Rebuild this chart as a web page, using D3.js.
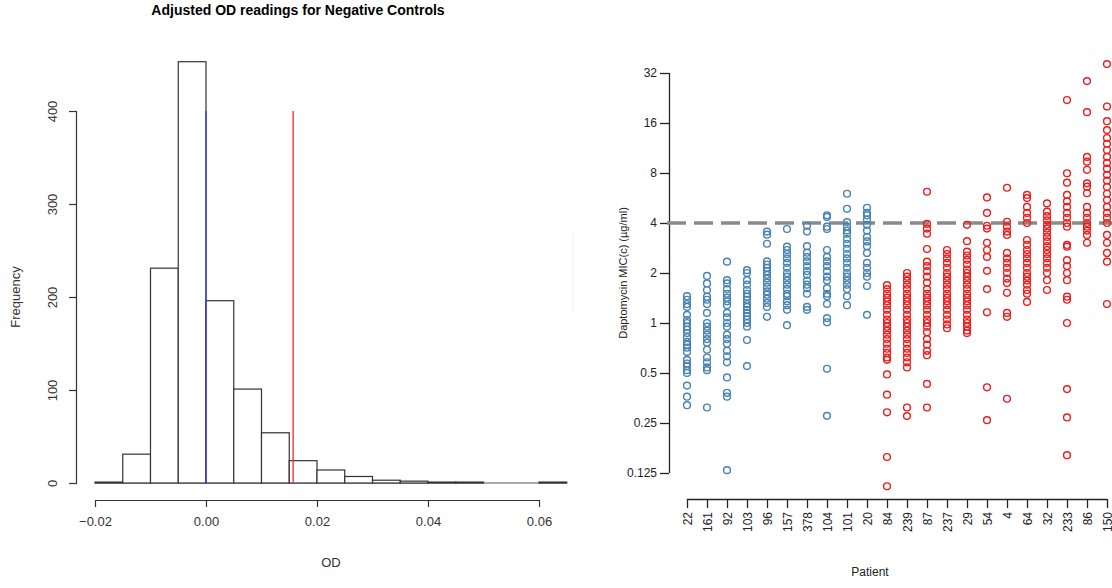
<!DOCTYPE html>
<html lang="en">
<head>
  <meta charset="UTF-8">
  <title>Adjusted OD readings / Daptomycin MIC</title>
  <script src="https://d3js.org/d3.v7.min.js"></script>
  <style>
    body { margin: 0; background: #fff; }
    svg { display: block; font-family: "Liberation Sans", Arial, sans-serif; }
  </style>
</head>
<body>
  <svg id="chart" width="1112" height="588"></svg>

  <script>
    // Histogram data (left panel)
    const binStart = -0.02;
    const binWidth = 0.005;
    const counts = [1, 31, 231, 453, 196, 101, 54, 24, 14, 7, 3, 2, 1, 1, 0, 0, 1];
    const odTicks = [-0.02, 0, 0.02, 0.04, 0.06];
    const freqTicks = [0, 100, 200, 300, 400];
    const refLines = [
      { od: 0, top: 400, color: '#3b3bf0' },
      { od: 0.0157, top: 400, color: '#ee2a2a' }
    ];

    // MIC data (right panel)
    const patients = ['22', '161', '92', '103', '96', '157', '378', '104', '101', '20', '84',
      '239', '87', '237', '29', '54', '4', '64', '32', '233', '86', '150'];
    const groups = ['S', 'S', 'S', 'S', 'S', 'S', 'S', 'S', 'S', 'S', 'R',
      'R', 'R', 'R', 'R', 'R', 'R', 'R', 'R', 'R', 'R', 'R'];
    const micValues = [
      [1.45, 1.38, 1.3, 1.25, 1.12, 1.04, 1, 0.95, 0.91, 0.87, 0.82, 0.77, 0.74, 0.71, 0.67, 0.6, 0.57, 0.55, 0.52, 0.5, 0.42, 0.36, 0.32],
      [1.92, 1.73, 1.58, 1.44, 1.38, 1.3, 1.15, 1.0, 0.95, 0.9, 0.85, 0.8, 0.76, 0.69, 0.62, 0.58, 0.54, 0.52, 0.31],
      [2.34, 1.81, 1.73, 1.6, 1.5, 1.42, 1.35, 1.28, 1.15, 1.08, 1.0, 0.95, 0.85, 0.8, 0.75, 0.68, 0.63, 0.58, 0.47, 0.38, 0.36, 0.13],
      [2.08, 2.0, 1.81, 1.7, 1.58, 1.5, 1.44, 1.38, 1.3, 1.25, 1.2, 1.15, 1.1, 1.05, 1.0, 0.95, 0.79, 0.55],
      [3.55, 3.4, 3.0, 2.35, 2.25, 2.15, 2.05, 1.95, 1.85, 1.75, 1.65, 1.55, 1.48, 1.4, 1.32, 1.25, 1.09],
      [3.68, 2.88, 2.75, 2.6, 2.45, 2.3, 2.15, 2.0, 1.9, 1.8, 1.7, 1.6, 1.5, 1.45, 1.35, 1.28, 1.2, 0.97],
      [3.85, 3.55, 2.9, 2.65, 2.5, 2.35, 2.2, 2.05, 1.95, 1.8, 1.7, 1.62, 1.5, 1.25, 1.2],
      [4.45, 4.35, 3.8, 3.68, 2.75, 2.5, 2.35, 2.2, 2.05, 1.9, 1.8, 1.62, 1.5, 1.45, 1.3, 1.07, 1.01, 0.53, 0.276],
      [6.0, 4.87, 4.05, 3.8, 3.6, 3.45, 3.2, 3.0, 2.8, 2.6, 2.45, 2.3, 2.15, 2.0, 1.9, 1.8, 1.7, 1.6, 1.45, 1.28],
      [4.94, 4.6, 4.45, 4.2, 3.9, 3.6, 3.3, 3.1, 2.9, 2.64, 2.3, 2.15, 2.0, 1.9, 1.67, 1.12],
      [1.69, 1.6, 1.5, 1.42, 1.35, 1.28, 1.2, 1.12, 1.05, 1.0, 0.95, 0.9, 0.85, 0.8, 0.75, 0.7, 0.66, 0.62, 0.6, 0.49, 0.37, 0.29, 0.156, 0.104],
      [2.0, 1.9, 1.8, 1.7, 1.6, 1.5, 1.42, 1.35, 1.28, 1.2, 1.12, 1.05, 1.0, 0.95, 0.9, 0.85, 0.8, 0.75, 0.7, 0.66, 0.62, 0.58, 0.54, 0.31, 0.275],
      [6.17, 3.95, 3.7, 3.45, 2.79, 2.34, 2.2, 2.05, 1.9, 1.75, 1.6, 1.5, 1.42, 1.35, 1.28, 1.2, 1.12, 1.05, 1.0, 0.95, 0.88, 0.8, 0.74, 0.68, 0.64, 0.43, 0.31],
      [2.75, 2.6, 2.45, 2.3, 2.15, 2.0, 1.9, 1.8, 1.7, 1.6, 1.5, 1.42, 1.35, 1.28, 1.2, 1.12, 1.05, 0.98, 0.93],
      [3.9, 3.11, 2.69, 2.55, 2.4, 2.25, 2.1, 2.0, 1.9, 1.8, 1.7, 1.6, 1.5, 1.42, 1.35, 1.28, 1.2, 1.12, 1.05, 1.0, 0.95, 0.9, 0.87],
      [5.7, 4.6, 3.85, 3.7, 3.04, 2.75, 2.5, 2.06, 1.6, 1.16, 0.41, 0.26],
      [6.52, 4.07, 3.8, 3.55, 3.39, 2.64, 2.45, 2.3, 2.15, 2.0, 1.85, 1.74, 1.52, 1.15, 1.09, 0.35],
      [5.9, 5.65, 5.0, 4.6, 4.3, 4.0, 3.16, 2.95, 2.75, 2.6, 2.45, 2.3, 2.15, 2.0, 1.9, 1.8, 1.7, 1.58, 1.5, 1.34],
      [5.25, 4.68, 4.4, 4.15, 3.9, 3.7, 3.5, 3.3, 3.1, 2.9, 2.75, 2.6, 2.45, 2.3, 2.15, 2.0, 1.81, 1.58],
      [22, 7.97, 7.0, 5.9, 5.4, 5.0, 4.6, 4.3, 4.0, 3.8, 2.95, 2.88, 2.39, 2.2, 2.0, 1.81, 1.44, 1.38, 1.0, 0.4, 0.27, 0.16],
      [28.6, 18.6, 10.0, 9.36, 8.36, 6.93, 6.62, 6.04, 5.0, 4.6, 4.3, 4.0, 3.8, 3.6, 3.39, 3.04],
      [36.2, 20.1, 16.4, 14.5, 13.0, 12.0, 11.0, 10.0, 9.2, 8.5, 7.8, 7.2, 6.6, 6.0, 5.5, 5.0, 4.6, 4.3, 4.0, 3.39, 3.04, 2.64, 2.34, 1.3]
    ];
    const micTicks = [0.125, 0.25, 0.5, 1, 2, 4, 8, 16, 32];
    const breakpoint = 4;
    const groupColor = { S: '#4682b4', R: '#ee1c1c' };

    const svg = d3.select('#chart');

    // ---------- left: histogram ----------
    const x1 = d3.scaleLinear().domain([-0.02, 0.06]).range([95, 539]);
    const y1 = d3.scaleLinear().domain([0, 400]).range([483, 111]);

    svg.append('text')
      .attr('x', 298).attr('y', 15)
      .attr('text-anchor', 'middle')
      .attr('font-size', 14).attr('font-weight', 'bold')
      .text('Adjusted OD readings for Negative Controls');

    const bins = counts.map((c, i) => ({ x0: binStart + i * binWidth, x1: binStart + (i + 1) * binWidth, n: c }));

    // zero-height bins still show as a line on the baseline
    svg.append('line')
      .attr('x1', x1(bins[0].x0)).attr('x2', x1(bins[bins.length - 1].x1))
      .attr('y1', y1(0)).attr('y2', y1(0))
      .attr('stroke', '#555').attr('stroke-width', 1.2);

    svg.append('g').selectAll('rect')
      .data(bins.filter(d => d.n > 0))
      .join('rect')
      .attr('x', d => x1(d.x0))
      .attr('y', d => y1(d.n))
      .attr('width', d => x1(d.x1) - x1(d.x0))
      .attr('height', d => y1(0) - y1(d.n))
      .attr('fill', 'white')
      .attr('stroke', '#333')
      .attr('stroke-width', 1.2);

    svg.append('g').selectAll('line')
      .data(refLines)
      .join('line')
      .attr('x1', d => x1(d.od)).attr('x2', d => x1(d.od))
      .attr('y1', d => y1(d.top)).attr('y2', y1(0))
      .attr('stroke', d => d.color)
      .attr('stroke-width', 1.3);

    const xAxis1 = svg.append('g')
      .attr('transform', 'translate(0,500)')
      .call(d3.axisBottom(x1).tickValues(odTicks).tickSize(7).tickFormat(d3.format('.2f')));
    const yAxis1 = svg.append('g')
      .attr('transform', 'translate(77,0)')
      .call(d3.axisLeft(y1).tickValues(freqTicks).tickSize(8));
    [xAxis1, yAxis1].forEach(a => {
      a.select('.domain').attr('stroke', '#333').attr('stroke-width', 1.2);
      a.selectAll('.tick line').attr('stroke', '#333').attr('stroke-width', 1.2);
      a.selectAll('text').attr('font-size', 13).attr('fill', '#333').attr('font-family', null);
    });
    // R-style axis ends: no outer tick caps
    xAxis1.select('.domain').attr('d', `M${x1(-0.02)},0.5H${x1(0.06)}`);
    yAxis1.select('.domain').attr('d', `M-0.5,${y1(400)}V${y1(0)}`);
    xAxis1.selectAll('text').attr('dy', null).attr('y', 26);
    yAxis1.selectAll('.tick text')
      .attr('transform', 'rotate(-90)')
      .attr('x', 0).attr('y', -20)
      .attr('dy', null)
      .attr('text-anchor', 'middle');

    svg.append('text')
      .attr('transform', 'translate(20,297) rotate(-90)')
      .attr('text-anchor', 'middle')
      .attr('font-size', 13).attr('fill', '#333')
      .text('Frequency');
    svg.append('text')
      .attr('x', 331).attr('y', 567)
      .attr('text-anchor', 'middle')
      .attr('font-size', 13).attr('fill', '#333')
      .text('OD');

    // faint separator artefact
    svg.append('line')
      .attr('x1', 573).attr('x2', 573).attr('y1', 233).attr('y2', 313)
      .attr('stroke', '#eeeeee');

    // ---------- right: MIC by patient ----------
    const x2 = d3.scalePoint().domain(patients).range([687, 1107]);
    const y2 = d3.scaleLog().base(2).domain([0.125, 32]).range([473, 73]);

    const yAxis2 = svg.append('g')
      .attr('transform', 'translate(669,0)')
      .call(d3.axisLeft(y2).tickValues(micTicks).tickSize(9).tickFormat(d => String(d)));
    const xAxis2 = svg.append('g')
      .attr('transform', 'translate(0,499)')
      .call(d3.axisBottom(x2).tickSize(9));
    [xAxis2, yAxis2].forEach(a => {
      a.select('.domain').attr('stroke', '#222').attr('stroke-width', 1.3);
      a.selectAll('.tick line').attr('stroke', '#222').attr('stroke-width', 1.3);
      a.selectAll('text').attr('font-size', 12).attr('fill', '#222').attr('font-family', null);
    });
    yAxis2.select('.domain').attr('d', `M0.5,${y2(0.125)}V${y2(32)}`);
    xAxis2.select('.domain').attr('d', `M${x2(patients[0])},0.5H${x2(patients[patients.length - 1])}`);
    yAxis2.selectAll('.tick text').attr('x', -12);
    xAxis2.selectAll('.tick text')
      .attr('transform', 'rotate(-90)')
      .attr('x', -13).attr('y', 0)
      .attr('dy', '0.35em')
      .attr('text-anchor', 'end');

    // breakpoint line
    svg.append('line')
      .attr('x1', 667).attr('x2', 1112)
      .attr('y1', y2(breakpoint)).attr('y2', y2(breakpoint))
      .attr('stroke', '#8a8a8a')
      .attr('stroke-width', 3.5)
      .attr('stroke-dasharray', '19,8');

    const points = patients.flatMap((p, i) => micValues[i].map(v => ({ p, v, g: groups[i] })));
    svg.append('g').selectAll('circle')
      .data(points)
      .join('circle')
      .attr('cx', d => x2(d.p))
      .attr('cy', d => y2(d.v))
      .attr('r', 3.4)
      .attr('fill', 'none')
      .attr('stroke', d => groupColor[d.g])
      .attr('stroke-width', 1.4);

    svg.append('text')
      .attr('transform', 'translate(627,273) rotate(-90)')
      .attr('text-anchor', 'middle')
      .attr('font-size', 11).attr('fill', '#222')
      .text('Daptomycin MIC(c) (µg/ml)');
    svg.append('text')
      .attr('x', 870).attr('y', 576)
      .attr('text-anchor', 'middle')
      .attr('font-size', 12).attr('fill', '#222')
      .text('Patient');
  </script>
</body>
</html>
